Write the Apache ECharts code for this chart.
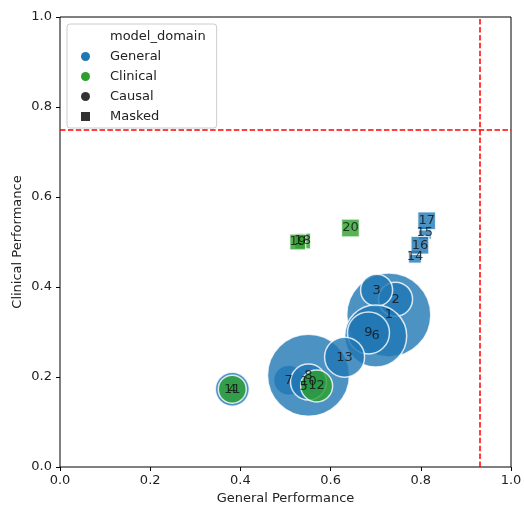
<!DOCTYPE html>
<html>
<head>
<meta charset="utf-8">
<script src="https://cdn.jsdelivr.net/npm/echarts@6/dist/echarts.min.js"></script>
<style>
  html, body { margin: 0; padding: 0; background: #fff; }
  #chart { width: 524px; height: 506px; }
</style>
</head>
<body>
<div id="chart"></div>
<script>
// model ids and their scores
var modelIds = [1, 2, 3, 4, 5, 6, 7, 8, 9, 10, 11, 12, 13, 14, 15, 16, 17, 18, 19, 20];
var generalPerf = [0.729, 0.744, 0.702, 0.382, 0.540, 0.700, 0.507, 0.551, 0.684, 0.551,
                   0.382, 0.569, 0.631, 0.787, 0.809, 0.798, 0.813, 0.538, 0.527, 0.644];
var clinicalPerf = [0.338, 0.373, 0.393, 0.173, 0.178, 0.291, 0.193, 0.204, 0.298, 0.189,
                    0.173, 0.180, 0.244, 0.467, 0.520, 0.493, 0.547, 0.502, 0.500, 0.531];
var modelDomain = ['General', 'General', 'General', 'General', 'General', 'General', 'General',
                   'General', 'General', 'General', 'Clinical', 'Clinical', 'General', 'General',
                   'General', 'General', 'General', 'Clinical', 'Clinical', 'Clinical'];
var modelType = ['Causal', 'Causal', 'Causal', 'Causal', 'Causal', 'Causal', 'Causal', 'Causal',
                 'Causal', 'Causal', 'Causal', 'Causal', 'Causal', 'Masked', 'Masked', 'Masked',
                 'Masked', 'Masked', 'Masked', 'Masked'];
var bubbleSize = [84, 34, 32, 34, 20, 62, 30, 82, 42, 36, 28, 32, 40, 13, 13, 18, 18, 16, 16, 18];
var thresholdGeneral = 0.93;
var thresholdClinical = 0.75;

var domainColor = { General: '#1f77b4', Clinical: '#2ca02c' };
var typeSymbol = { Causal: 'circle', Masked: 'rect' };

var points = modelIds.map(function (id, i) {
  return {
    value: [generalPerf[i], clinicalPerf[i], id, bubbleSize[i]],
    symbol: typeSymbol[modelType[i]],
    itemStyle: { color: domainColor[modelDomain[i]] }
  };
});

var font = 'DejaVu Sans';

// empty series only used to feed the legend
function legendSeries(name, color) {
  return { name: name, type: 'scatter', data: [], itemStyle: { color: color, opacity: 1 } };
}

var option = {
  backgroundColor: '#fff',
  animation: false,
  textStyle: { fontFamily: font },
  grid: {
    left: 60, right: 13, top: 17, bottom: 39,
    outerBoundsMode: 'none',
    show: true, borderColor: '#000', borderWidth: 1, backgroundColor: 'transparent'
  },
  xAxis: {
    type: 'value', min: 0, max: 1, interval: 0.2,
    name: 'General Performance', nameLocation: 'middle', nameGap: 23,
    nameTextStyle: { fontSize: 13, color: '#222', fontFamily: font },
    axisLine: { show: false },
    axisTick: { show: true, inside: false, length: 4, lineStyle: { color: '#000' } },
    axisLabel: { fontSize: 13, color: '#222', margin: 7, fontFamily: font,
      formatter: function (v) { return v.toFixed(1); } },
    splitLine: { show: false }
  },
  yAxis: {
    type: 'value', min: 0, max: 1, interval: 0.2,
    name: 'Clinical Performance', nameLocation: 'middle', nameGap: 36,
    nameMoveOverlap: false,
    nameTextStyle: { fontSize: 13, color: '#222', fontFamily: font },
    axisLine: { show: false },
    axisTick: { show: true, inside: false, length: 4, lineStyle: { color: '#000' } },
    axisLabel: { fontSize: 13, color: '#222', margin: 8, fontFamily: font,
      formatter: function (v) { return v.toFixed(1); } },
    splitLine: { show: false }
  },
  legend: {
    orient: 'vertical', left: 67, top: 24,
    itemWidth: 9, itemHeight: 9, itemGap: 7,
    padding: [6, 11, 5, 14],
    backgroundColor: 'rgba(255,255,255,0.8)',
    borderColor: '#cccccc', borderWidth: 1, borderRadius: 3,
    selectedMode: false,
    textStyle: { fontSize: 13, color: '#222', fontFamily: font,
      rich: { sp: { width: 15 }, t: { fontSize: 13, color: '#222', fontFamily: font } } },
    formatter: function (name) { return '{sp|}{t|' + name + '}'; },
    data: [
      { name: 'model_domain', icon: 'circle', itemStyle: { opacity: 0 } },
      { name: 'General', icon: 'circle' },
      { name: 'Clinical', icon: 'circle' },
      { name: 'Causal', icon: 'circle' },
      { name: 'Masked', icon: 'rect' }
    ]
  },
  series: [
    legendSeries('model_domain', '#ffffff'),
    legendSeries('General', '#1f77b4'),
    legendSeries('Clinical', '#2ca02c'),
    legendSeries('Causal', '#333333'),
    legendSeries('Masked', '#333333'),
    {
      name: 'models',
      type: 'scatter',
      data: points,
      symbolSize: function (v) { return v[3]; },
      itemStyle: { opacity: 0.8, borderColor: '#ffffff', borderWidth: 1.5 },
      label: {
        show: true, position: 'inside', color: '#111', fontSize: 13, fontFamily: font,
        formatter: function (p) { return String(p.value[2]); }
      },
      emphasis: { disabled: true },
      markLine: {
        silent: true, symbol: 'none', animation: false,
        label: { show: false },
        lineStyle: { color: '#ff0000', type: [5.5, 2.4], width: 1.5 },
        data: [{ xAxis: thresholdGeneral }, { yAxis: thresholdClinical }]
      }
    }
  ]
};

var myChart = echarts.init(document.getElementById('chart'));
myChart.setOption(option);
</script>
</body>
</html>
